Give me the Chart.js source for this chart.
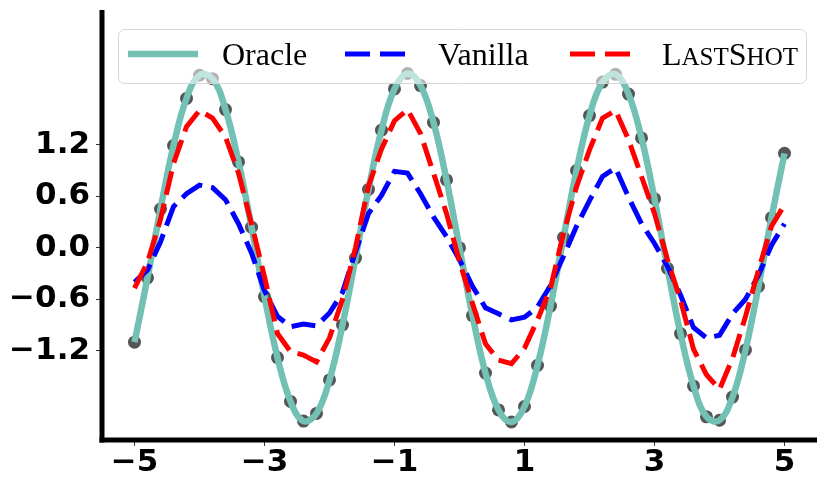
<!DOCTYPE html>
<html><head><meta charset="utf-8">
<script src="https://cdn.jsdelivr.net/npm/chart.js@4.4.1/dist/chart.umd.min.js"></script>
<style>html,body{margin:0;padding:0;background:#fff;}canvas{display:block;}</style>
</head><body>
<canvas id="c" width="831" height="489"></canvas>
<script>
const xValues = [-5.0,-4.8,-4.6,-4.4,-4.2,-4.0,-3.8,-3.6,-3.4,-3.2,-3.0,-2.8,-2.6,-2.4,-2.2,-2.0,-1.8,-1.6,-1.4,-1.2,-1.0,-0.8,-0.6,-0.4,-0.2,0.0,0.2,0.4,0.6,0.8,1.0,1.2,1.4,1.6,1.8,2.0,2.2,2.4,2.6,2.8,3.0,3.2,3.4,3.6,3.8,4.0,4.2,4.4,4.6,4.8,5.0];
const oracle = [-1.10,-0.35,0.45,1.19,1.74,2.01,1.97,1.61,1.00,0.24,-0.57,-1.28,-1.79,-2.02,-1.93,-1.54,-0.90,-0.12,0.68,1.37,1.85,2.03,1.89,1.46,0.79,0.00,-0.79,-1.46,-1.89,-2.03,-1.85,-1.37,-0.68,0.12,0.90,1.54,1.93,2.02,1.79,1.28,0.57,-0.24,-1.00,-1.61,-1.97,-2.01,-1.74,-1.19,-0.45,0.35,1.10];
const vanilla = [-0.40,-0.26,0.07,0.48,0.63,0.73,0.70,0.56,0.28,-0.06,-0.50,-0.80,-0.92,-0.89,-0.91,-0.76,-0.52,-0.05,0.40,0.61,0.89,0.87,0.63,0.36,0.13,-0.14,-0.45,-0.70,-0.77,-0.84,-0.81,-0.69,-0.44,-0.10,0.25,0.55,0.83,0.93,0.59,0.28,0.05,-0.22,-0.55,-0.93,-1.05,-1.02,-0.77,-0.60,-0.32,0.03,0.28];
const lastShot = [-0.47,-0.17,0.33,0.98,1.41,1.60,1.51,1.29,0.87,0.28,-0.34,-1.00,-1.21,-1.25,-1.33,-1.05,-0.60,0.00,0.72,1.15,1.48,1.61,1.33,0.87,0.40,-0.16,-0.65,-1.12,-1.31,-1.35,-1.17,-0.84,-0.47,0.17,0.71,1.14,1.51,1.60,1.26,0.83,0.40,-0.14,-0.61,-1.18,-1.48,-1.65,-1.29,-0.80,-0.26,0.25,0.50];
const xTicks = [-5,-3,-1,1,3,5];
const yTicks = [-1.2,-0.6,0.0,0.6,1.2];
const seriesLabels = ['Oracle','Vanilla','LastShot'];

const TEAL = '#72c1b4', BLUE = '#0000ff', RED = '#ff0000';
const pts = arr => xValues.map((x,i)=>({x:x, y:arr[i]}));
const minus = s => s.replace('-', '\u2212');

const spines = {
  id:'spines',
  afterDatasetsDraw(chart){
    const {ctx, chartArea:a} = chart;
    ctx.save();
    ctx.fillStyle = '#000';
    ctx.fillRect(a.left-2.5, a.top, 5, a.bottom - a.top + 2.5);
    ctx.fillRect(a.left-2.5, a.bottom-2.5, a.right - a.left + 2.5, 5);
    ctx.restore();
  }
};

const legend = {
  id:'customLegend',
  afterDraw(chart){
    const ctx = chart.ctx;
    ctx.save();
    const x0=118.5, y0=29.5, w=688, h=54;
    ctx.beginPath();
    ctx.roundRect(x0,y0,w,h,6);
    ctx.fillStyle='rgba(255,255,255,0.55)';
    ctx.fill();
    ctx.strokeStyle='#d6d6d6'; ctx.lineWidth=1; ctx.stroke();
    const ly = 54;
    ctx.strokeStyle=TEAL; ctx.lineWidth=6.5; ctx.setLineDash([]); ctx.lineCap='butt';
    ctx.beginPath(); ctx.moveTo(128,ly); ctx.lineTo(198,ly); ctx.stroke();
    ctx.strokeStyle=BLUE; ctx.lineWidth=5; ctx.setLineDash([25,10]);
    ctx.beginPath(); ctx.moveTo(345,ly); ctx.lineTo(405,ly); ctx.stroke();
    ctx.strokeStyle=RED;
    ctx.beginPath(); ctx.moveTo(570,ly); ctx.lineTo(630,ly); ctx.stroke();
    ctx.setLineDash([]);
    ctx.fillStyle='#000'; ctx.textBaseline='alphabetic'; ctx.textAlign='left';
    const big = '32px "Liberation Serif"', small = '25px "Liberation Serif"';
    const by = 65;
    ctx.font = big;
    ctx.fillText(seriesLabels[0], 222, by);
    ctx.fillText(seriesLabels[1], 438, by);
    let x = 662;
    for (const ch of seriesLabels[2]) {
      const isUp = ch === ch.toUpperCase();
      ctx.font = isUp ? big : small;
      const c = ch.toUpperCase();
      ctx.fillText(c, x, by);
      x += ctx.measureText(c).width;
    }
    ctx.restore();
  }
};

const tickFont = {family:'"DejaVu Sans"', size:31, weight:'bold'};

new Chart(document.getElementById('c'), {
  type:'line',
  data:{
    datasets:[
      {label:seriesLabels[2], data:pts(lastShot), borderColor:RED, borderWidth:5, borderDash:[24,9], pointRadius:0, fill:false, tension:0, order:1},
      {label:seriesLabels[1], data:pts(vanilla), borderColor:BLUE, borderWidth:5, borderDash:[24,9], pointRadius:0, fill:false, tension:0, order:2},
      {label:seriesLabels[0], data:pts(oracle), borderColor:TEAL, borderWidth:6.5, pointRadius:0, fill:false, tension:0.4, order:3},
      {label:'samples', data:pts(oracle), showLine:false, pointRadius:6.5, pointBackgroundColor:'rgba(70,70,70,0.92)', pointBorderWidth:0, order:4}
    ]
  },
  options:{
    responsive:false, animation:false, devicePixelRatio:1,
    layout:{padding:{top:10, right:14, left:0, bottom:0}},
    plugins:{legend:{display:false}, tooltip:{enabled:false}},
    scales:{
      x:{type:'linear', min:-5.5, max:5.5,
        afterBuildTicks:s=>{s.ticks = xTicks.map(v=>({value:v}));},
        afterFit:s=>{s.height=49; s.paddingLeft=0; s.paddingRight=0;},
        border:{display:false},
        grid:{drawOnChartArea:false, drawTicks:true, tickLength:6, color:'#333', lineWidth:1},
        ticks:{font:tickFont, color:'#000', padding:-2, maxRotation:0, autoSkip:false,
          callback:v=>minus(String(v))}
      },
      y:{type:'linear', min:-2.24, max:2.77,
        afterBuildTicks:s=>{s.ticks = yTicks.map(v=>({value:v}));},
        afterFit:s=>{s.width=102; s.paddingTop=0; s.paddingBottom=0;},
        border:{display:false},
        grid:{drawOnChartArea:false, drawTicks:true, tickLength:6, color:'#333', lineWidth:1},
        ticks:{font:tickFont, color:'#000', padding:6, autoSkip:false,
          callback:v=>minus(Number(v).toFixed(1))}
      }
    }
  },
  plugins:[spines, legend]
});
</script>
</body></html>
